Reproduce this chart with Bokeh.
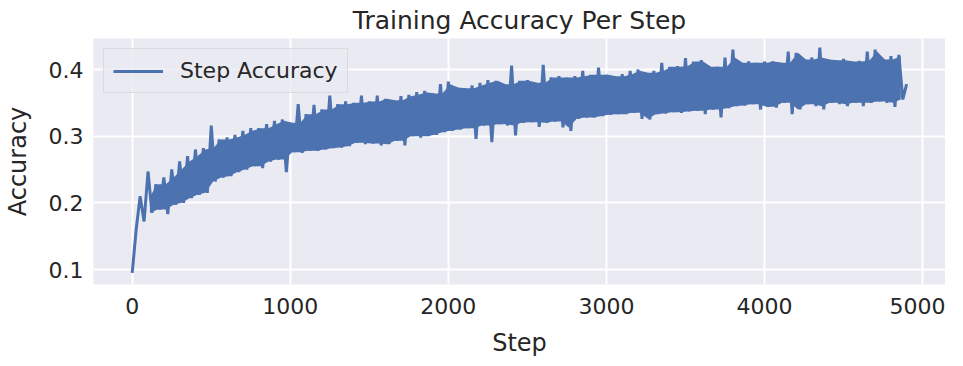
from bokeh.plotting import figure
from bokeh.models import Range1d, FixedTicker, Legend, LegendItem
from bokeh.embed import file_html
from bokeh.resources import INLINE

# Envelope readings of the noisy per-step accuracy, one pair per 50-step bin:
# the high reading sits at the bin start, the low reading half a bin later.
bin_size = 50
acc_high = [
    0.095, 0.210, 0.247, 0.228, 0.238, 0.250, 0.262, 0.270, 0.280, 0.282,
    0.316, 0.295, 0.298, 0.302, 0.308, 0.312, 0.312, 0.318, 0.323, 0.325,
    0.320, 0.348, 0.333, 0.347, 0.340, 0.361, 0.348, 0.352, 0.350, 0.361,
    0.352, 0.361, 0.356, 0.354, 0.360, 0.362, 0.366, 0.368, 0.364, 0.378,
    0.382, 0.373, 0.372, 0.376, 0.380, 0.384, 0.383, 0.378, 0.406, 0.383,
    0.384, 0.380, 0.407, 0.388, 0.390, 0.388, 0.390, 0.398, 0.392, 0.403,
    0.392, 0.390, 0.393, 0.398, 0.400, 0.395, 0.398, 0.410, 0.404, 0.405,
    0.417, 0.412, 0.414, 0.404, 0.404, 0.418, 0.430, 0.410, 0.412, 0.410,
    0.412, 0.412, 0.410, 0.427, 0.425, 0.415, 0.418, 0.433, 0.415, 0.414,
    0.416, 0.412, 0.413, 0.427, 0.430, 0.415, 0.420, 0.422,
]
acc_low = [
    0.160, 0.172, 0.185, 0.190, 0.183, 0.197, 0.200, 0.207, 0.212, 0.215,
    0.232, 0.238, 0.240, 0.246, 0.250, 0.255, 0.252, 0.262, 0.265, 0.246,
    0.276, 0.275, 0.278, 0.278, 0.280, 0.282, 0.283, 0.285, 0.290, 0.288,
    0.289, 0.286, 0.288, 0.293, 0.286, 0.300, 0.298, 0.300, 0.302, 0.306,
    0.308, 0.310, 0.312, 0.296, 0.316, 0.291, 0.318, 0.316, 0.301, 0.320,
    0.321, 0.314, 0.320, 0.322, 0.313, 0.308, 0.326, 0.328, 0.328, 0.330,
    0.332, 0.333, 0.333, 0.335, 0.326, 0.325, 0.333, 0.334, 0.336, 0.335,
    0.337, 0.338, 0.333, 0.340, 0.328, 0.342, 0.345, 0.346, 0.348, 0.340,
    0.344, 0.343, 0.350, 0.333, 0.340, 0.348, 0.345, 0.340, 0.350, 0.348,
    0.345, 0.350, 0.345, 0.350, 0.352, 0.350, 0.344, 0.355,
]
last_step = 4899
last_acc = 0.378

x_ticks = [0, 1000, 2000, 3000, 4000, 5000]
y_ticks = [0.1, 0.2, 0.3, 0.4]

# zig-zag trace through the readings (high at bin start, low at mid-bin)
steps = []
accs = []
for k, (hi, lo) in enumerate(zip(acc_high, acc_low)):
    steps += [k * bin_size, k * bin_size + bin_size // 2]
    accs += [hi, lo]
steps.append(last_step)
accs.append(last_acc)

# dense band between the envelopes (the step-to-step noise is too dense to separate)
band_x = [k * bin_size + bin_size // 4 for k in range(2, len(acc_high))]
band_hi = [min(acc_high[k], acc_high[k - 1]) for k in range(2, len(acc_high))]
band_lo = [max(acc_low[k], acc_low[k - 1]) for k in range(2, len(acc_low))]

FONT = "DejaVu Sans"
TXT = "#262626"
BLUE = "#4C72B0"

p = figure(frame_width=852, frame_height=246, output_backend="svg", toolbar_location=None,
           x_range=Range1d(-245, 5145), y_range=Range1d(0.0775, 0.4465),
           min_border_left=0, min_border_right=0, min_border_top=0,
           min_border_bottom=0)
p.background_fill_color = "#EAEAF2"
p.border_fill_color = "white"
p.outline_line_color = None

p.title.text = "Training Accuracy Per Step"
p.title.text_font = FONT
p.title.text_font_size = "25px"
p.title.text_font_style = "normal"
p.title.text_color = TXT
p.title.align = "center"
p.title.standoff = 7

p.varea(x=band_x, y1=band_lo, y2=band_hi, fill_color=BLUE)
r = p.line(steps, accs, line_color=BLUE, line_width=3)

for ax in (p.xaxis[0], p.yaxis[0]):
    ax.axis_line_color = None
    ax.major_tick_line_color = None
    ax.minor_tick_line_color = None
    ax.major_tick_out = 0
    ax.major_tick_in = 0
    ax.minor_tick_out = 0
    ax.minor_tick_in = 0
    ax.major_label_text_font = FONT
    ax.major_label_text_font_size = "22px"
    ax.major_label_text_color = TXT
    ax.major_label_text_line_height = 1.0
    ax.axis_label_text_font = FONT
    ax.axis_label_text_font_size = "24px"
    ax.axis_label_text_font_style = "normal"
    ax.axis_label_text_color = TXT
    ax.axis_label_text_line_height = 1.0

p.xaxis.ticker = FixedTicker(ticks=x_ticks)
p.yaxis.ticker = FixedTicker(ticks=y_ticks)
p.xaxis.axis_label = "Step"
p.yaxis.axis_label = "Accuracy"
p.xaxis.major_label_standoff = 13
p.yaxis.major_label_standoff = 10
p.xaxis.axis_label_standoff = 12
p.yaxis.axis_label_standoff = 14

for g in (p.xgrid[0], p.ygrid[0]):
    g.grid_line_color = "white"
    g.grid_line_width = 2

legend = Legend(items=[LegendItem(label="Step Accuracy", renderers=[r])],
                location="top_left")
legend.margin = 10
legend.padding = 9
legend.glyph_width = 50
legend.label_standoff = 17
legend.label_text_font = FONT
legend.label_text_font_size = "22px"
legend.label_text_color = TXT
legend.background_fill_color = "#EAEAF2"
legend.background_fill_alpha = 0.8
legend.border_line_color = "#cccccc"
legend.border_line_width = 1.5
p.add_layout(legend)

open("out.html", "w").write(file_html(p, INLINE))
